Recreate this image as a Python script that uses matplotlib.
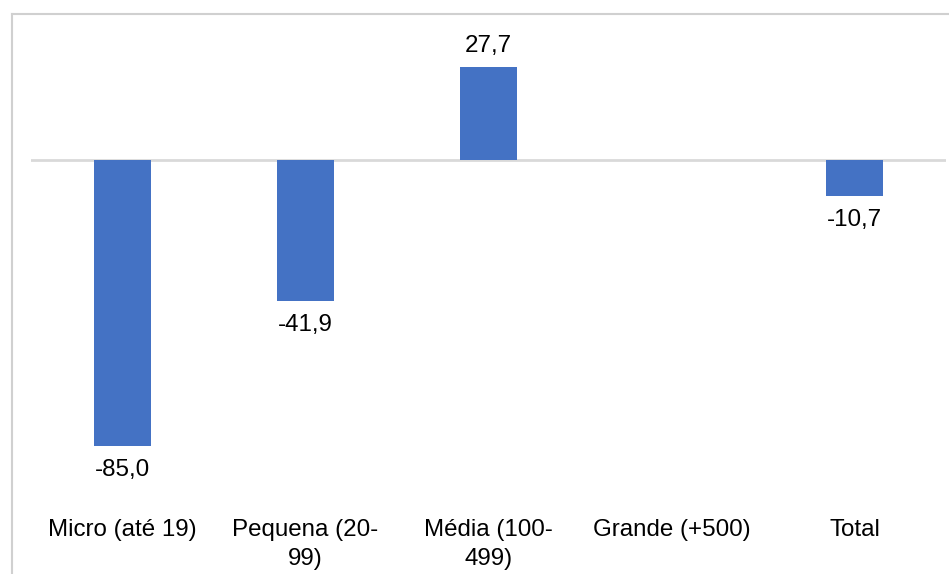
import numpy as np
import matplotlib
matplotlib.use("Agg")
from matplotlib import pyplot as plt
from matplotlib.lines import Line2D

categories = ["Micro (até 19)", "Pequena (20-\n99)", "Média (100-\n499)", "Grande (+500)", "Total"]
values = [-85.0, -41.9, 27.7, np.nan, -10.7]
labels = ["-85,0", "-41,9", "27,7", "", "-10,7"]

plt.rcParams['font.family'] = ['Liberation Sans', 'DejaVu Sans']

W, H = 949, 574
fig = plt.figure(figsize=(W / 100, H / 100), dpi=100)

# outer chart border (cropped on right/bottom)
border = '#d0d0d0'
fig.add_artist(Line2D([12 / W, 1], [1 - 14 / H, 1 - 14 / H], color=border, lw=1.5))
fig.add_artist(Line2D([12 / W, 12 / W], [0, 1 - 14 / H], color=border, lw=1.5))

ax = fig.add_axes([31 / W, 1 - 470 / H, (946 - 31) / W, 440 / H])
x = np.arange(len(categories))
ax.bar(x, values, width=0.31, color='#4472C4', zorder=2)
ax.axhline(0, color='#d9d9d9', lw=2, zorder=1)

for xi, v, lab in zip(x, values, labels):
    if np.isnan(v):
        continue
    off = 7 if v > 0 else -9.5
    ax.annotate(lab, (xi, v), xytext=(0, off), textcoords='offset points',
                ha='center', va='bottom' if v > 0 else 'top', fontsize=17.4, color='#000000')

ax.set_xlim(-0.5, 4.5)
ax.set_ylim(-92.1, 38.6)
ax.set_xticks(x)
ax.set_xticklabels(categories, fontsize=17.4, linespacing=1.42)
ax.tick_params(axis='x', length=0, pad=35)
ax.set_yticks([])
for s in ax.spines.values():
    s.set_visible(False)

fig.savefig("out.png", dpi=100)
